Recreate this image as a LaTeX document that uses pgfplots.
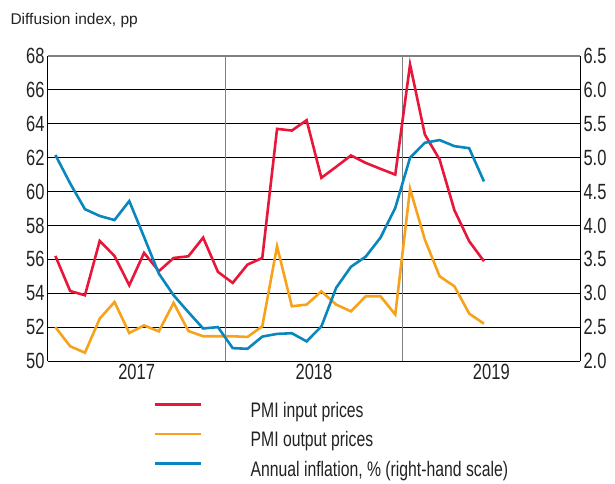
\documentclass[border=0pt]{standalone}
\usepackage{fontspec}
\setmainfont{Liberation Sans}
\newfontfamily\condfont[FakeStretch=0.75]{Liberation Sans}
\usepackage{pgfplots}
\pgfplotsset{compat=1.18}
\definecolor{cred}{HTML}{E8173A}
\definecolor{corange}{HTML}{F8A21C}
\definecolor{cblue}{HTML}{0A86BE}
\definecolor{ctext}{HTML}{222222}
\begin{document}
\begin{tikzpicture}
\path[use as bounding box] (-48pt,-122pt) rectangle (567pt,361pt);
\begin{axis}[
  scale only axis, width=532pt, height=305pt,
  xmin=0, xmax=36, ymin=50, ymax=68,
  ytick={50,52,54,56,58,60,62,64,66,68},
  ymajorgrids, major grid style={black, line width=1pt},
  xtick={6,18,30}, xticklabels={2017,2018,2019},
  major tick length=0pt,
  extra x ticks={12,24}, extra x tick labels={},
  extra x tick style={grid=major, major grid style={gray, line width=1pt}},
  axis y line*=left,
  axis line style={black, line width=1pt},
  tick label style={font=\fontsize{22}{22}\condfont, text=ctext},
  /pgf/number format/assume math mode=true,
  legend style={draw=none, fill=none, at={(0.199,-0.135)}, anchor=north west,
    inner sep=0pt, row sep=10.5pt, cells={anchor=west},
    nodes={inner sep=0pt, text height=15pt, text depth=4pt, font=\fontsize{21}{21}\condfont, text=ctext}},
  legend image code/.code={\draw[#1] (0pt,7.5pt) -- (46pt,7.5pt); \path (94pt,7.5pt);},
]
\addplot[cred, line width=2.6pt] coordinates {
(0.5,56.2) (1.5,54.13) (2.5,53.88) (3.5,57.09) (4.5,56.2) (5.5,54.47) (6.5,56.38) (7.5,55.3) (8.5,56.08) (9.5,56.18) (10.5,57.28) (11.5,55.26)
(12.5,54.61) (13.5,55.69) (14.5,56.08) (15.5,63.70) (16.5,63.60) (17.5,64.21) (18.5,60.81) (19.5,61.46) (20.5,62.13) (21.5,61.69) (22.5,61.34) (23.5,61.0)
(24.5,67.5) (25.5,63.37) (26.5,61.89) (27.5,58.9) (28.5,57.07) (29.5,55.89)
};
\addlegendentry{PMI input prices}
\addplot[corange, line width=2.6pt] coordinates {
(0.5,52.0) (1.5,50.87) (2.5,50.49) (3.5,52.5) (4.5,53.48) (5.5,51.65) (6.5,52.1) (7.5,51.75) (8.5,53.43) (9.5,51.77) (10.5,51.46) (11.5,51.46)
(12.5,51.46) (13.5,51.42) (14.5,52.05) (15.5,56.77) (16.5,53.23) (17.5,53.33) (18.5,54.11) (19.5,53.33) (20.5,52.93) (21.5,53.82) (22.5,53.82) (23.5,52.74)
(24.5,60.16) (25.5,57.17) (26.5,55.0) (27.5,54.41) (28.5,52.8) (29.5,52.2)
};
\addlegendentry{PMI output prices}
\addlegendimage{cblue, line width=2.6pt}
\addlegendentry{Annual inflation, \% (right-hand scale)}
\end{axis}
\begin{axis}[
  scale only axis, width=532pt, height=305pt,
  xmin=0, xmax=36, ymin=2, ymax=6.5,
  ytick={2,2.5,3,3.5,4,4.5,5,5.5,6,6.5},
  yticklabel style={/pgf/number format/.cd, fixed, fixed zerofill, precision=1},
  major tick length=0pt,
  axis y line*=right, axis x line=none,
  axis line style={black, line width=1pt},
  tick label style={font=\fontsize{22}{22}\condfont, text=ctext},
  /pgf/number format/assume math mode=true,
]
\addplot[cblue, line width=2.6pt] coordinates {
(0.5,5.04) (1.5,4.62) (2.5,4.24) (3.5,4.14) (4.5,4.08) (5.5,4.36) (6.5,3.83) (7.5,3.29) (8.5,2.97) (9.5,2.72) (10.5,2.48) (11.5,2.50)
(12.5,2.19) (13.5,2.18) (14.5,2.36) (15.5,2.40) (16.5,2.41) (17.5,2.29) (18.5,2.51) (19.5,3.08) (20.5,3.39) (21.5,3.54) (22.5,3.82) (23.5,4.26)
(24.5,5.0) (25.5,5.22) (26.5,5.26) (27.5,5.17) (28.5,5.14) (29.5,4.65)
};
\end{axis}
\draw[gray, line width=1pt] (0pt,305pt) -- (532pt,305pt);
\node[anchor=base west, font=\fontsize{15.5}{16}\selectfont, text=ctext] at (-41pt,336pt) {Diffusion index, pp};
\end{tikzpicture}
\end{document}
